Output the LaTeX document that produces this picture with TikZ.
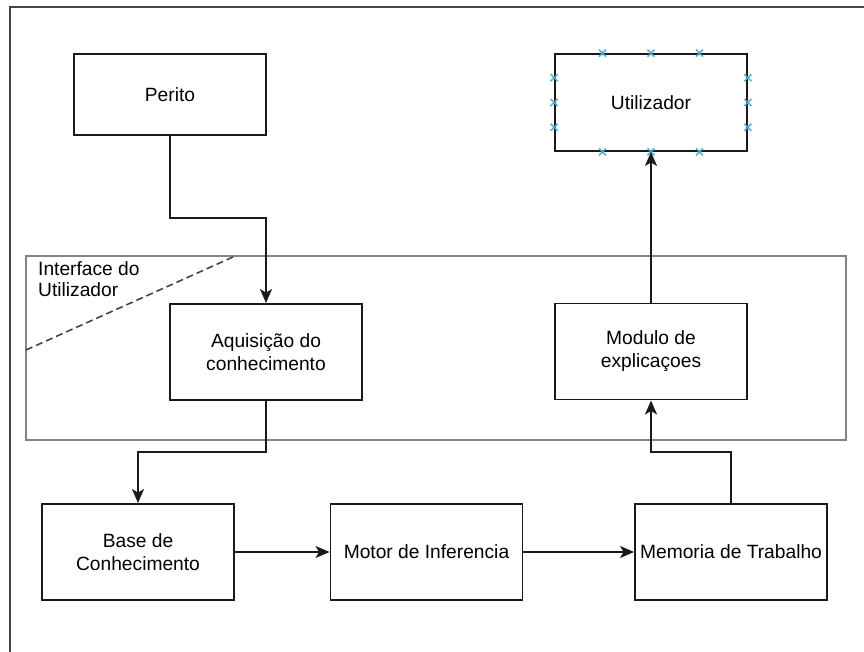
\documentclass[tikz,border=0pt]{standalone}
\usepackage{fontspec}
\setmainfont{Liberation Sans}
\usetikzlibrary{arrows.meta,calc}
\definecolor{boxline}{HTML}{1A1A1A}
\definecolor{groupline}{HTML}{858585}
\definecolor{frameline}{HTML}{444444}
\definecolor{handle}{HTML}{3BB0E8}
\tikzset{
  block/.style={draw=boxline, line width=1.9pt, rectangle, inner sep=0pt,
    minimum width=192pt, minimum height=96pt, align=center,
    font=\fontsize{19.2}{23}\selectfont},
  link/.style={draw=boxline, line width=1.9pt,
    -{Stealth[length=14pt,width=12pt,inset=3.5pt]}},
  handlemark/.style={draw=handle, line width=1.4pt},
}
\newcommand{\handleat}[1]{%
  \draw[handlemark] ($#1+(-3.5pt,-3.5pt)$) -- ($#1+(3.5pt,3.5pt)$)
    ($#1+(-3.5pt,3.5pt)$) -- ($#1+(3.5pt,-3.5pt)$);}
\begin{document}
\begin{tikzpicture}[x=1pt, y=-1pt]
  \useasboundingbox (0,0) rectangle (864,652);
  % page frame, cut by the edges
  \draw[frameline, line width=2pt] (10,652) -- (10,7) -- (864,7);

  % user interface group
  \node[draw=groupline, line width=2.6pt, rectangle, inner sep=0pt,
        minimum width=820pt, minimum height=184pt] (ui) at (436,348) {};
  \coordinate (cutA) at (26,350);
  \coordinate (cutB) at (233,257);
  \draw[frameline, line width=1.6pt, dash pattern=on 7pt off 4pt] (cutA) -- (cutB);
  \node[anchor=north west, align=left, inner sep=0pt,
        font=\fontsize{19.2}{21.5}\selectfont] (uilabel) at (38,261)
        {Interface do\\Utilizador};

  % blocks
  \node[block, minimum height=81pt] (perito) at (170,94.5) {Perito};
  \node[block, minimum height=97pt] (user) at (651,102.5) {Utilizador};
  \node[block] (aquis) at (266,352) {Aquisição do\\conhecimento};
  \node[block] (modulo) at (651,351.5) {Modulo de\\explicaçoes};
  \node[block] (base) at (138,552) {Base de\\Conhecimento};
  \node[block] (motor) at (426.5,552) {Motor de Inferencia};
  \node[block] (mem) at (731,552) {Memoria de Trabalho};

  % selection handles on the user block
  \foreach \f in {0.25,0.5,0.75} {
    \handleat{($(user.north west)!\f!(user.north east)$)}
    \handleat{($(user.south west)!\f!(user.south east)$)}
    \handleat{($(user.north west)!\f!(user.south west)$)}
    \handleat{($(user.north east)!\f!(user.south east)$)}
  }

  % bend points
  \coordinate (b1) at (170,218);
  \coordinate (b2) at (266,218);
  \coordinate (b3) at (266,452);
  \coordinate (b4) at (138,452);
  \coordinate (b5) at (731,452);
  \coordinate (b6) at (651,452);

  % connectors
  \draw[link] (perito.south) -- (b1) -- (b2) -- (aquis.north);
  \draw[link] (aquis.south) -- (b3) -- (b4) -- (base.north);
  \draw[link] (base.east) -- (motor.west);
  \draw[link] (motor.east) -- (mem.west);
  \draw[link] (mem.north) -- (b5) -- (b6) -- (modulo.south);
  \draw[link] (modulo.north) -- (user.south);
\end{tikzpicture}
\end{document}
